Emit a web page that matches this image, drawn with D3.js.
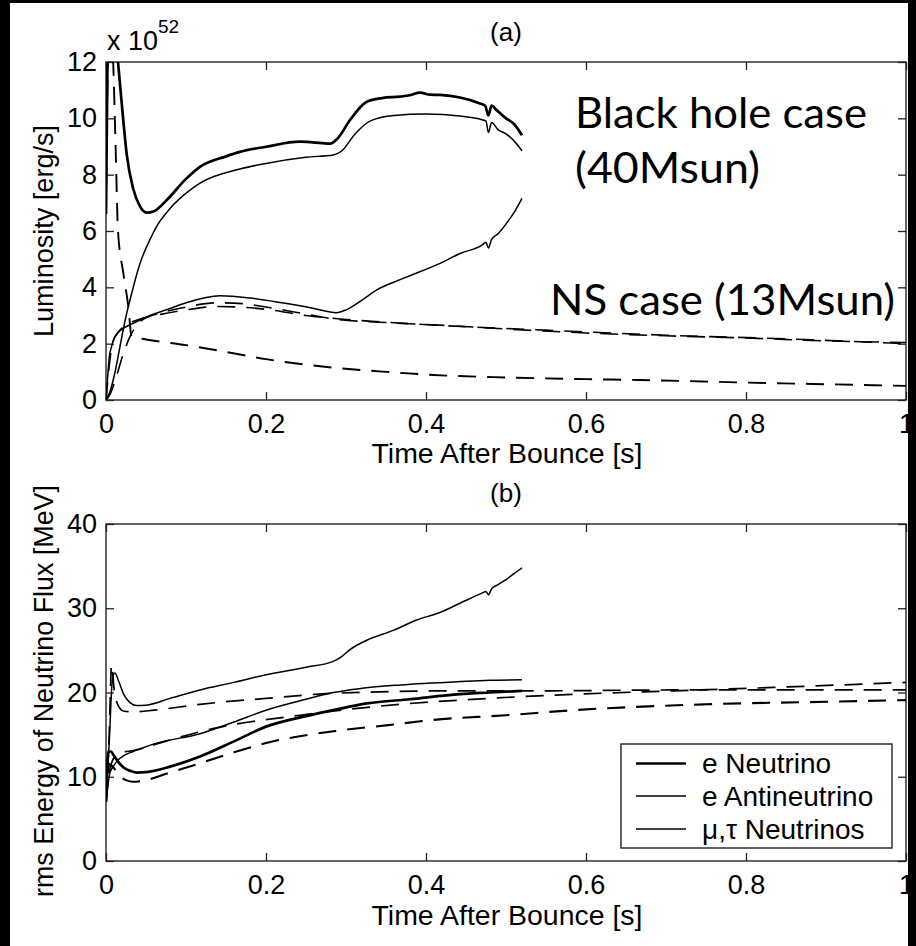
<!DOCTYPE html>
<html><head><meta charset="utf-8">
<script src="https://cdn.jsdelivr.net/npm/d3@7"></script>
<style>body{margin:0;background:#000}svg{display:block}</style>
</head><body><svg id="c" width="916" height="946"></svg>
<script>
// ---------- data ----------
const xTicks = [0, 0.2, 0.4, 0.6, 0.8, 1];
const xTickLabels = ["0", "0.2", "0.4", "0.6", "0.8", "1"];
const lumTicks = [0, 2, 4, 6, 8, 10, 12];
const ergTicks = [0, 10, 20, 30, 40];
const legendLabels = ["e Neutrino", "e Antineutrino", "\u03bc,\u03c4 Neutrinos"];

// (a) luminosity [10^52 erg/s], black hole case 40Msun (solid, end 0.52 s)
const bhLumNueT = [0,0.002,0.006,0.010,0.015,0.0217,0.026,0.034,0.042,0.051,0.06,0.076,0.1,0.1175,0.15,0.1675,0.2,0.2425,0.27,0.28,0.29,0.305,0.326,0.345,0.3675,0.38,0.3925,0.405,0.4175,0.4425,0.4675,0.474,0.478,0.482,0.488,0.5,0.51,0.52];
const bhLumNueV = [6.6,12.5,14.5,13.5,12.0,9.9,8.7,7.5,6.9,6.65,6.7,7.1,7.85,8.28,8.65,8.81,8.99,9.17,9.12,9.1,9.3,9.94,10.59,10.72,10.77,10.82,10.91,10.84,10.83,10.74,10.53,10.45,10.1,10.45,10.3,10.0,9.8,9.4];
const bhLumNuebT = [0,0.005,0.011,0.0175,0.024,0.03,0.0425,0.055,0.063,0.08,0.105,0.1175,0.1675,0.2,0.25,0.284,0.295,0.31,0.33,0.36,0.4,0.4425,0.47,0.475,0.478,0.482,0.49,0.5,0.51,0.52];
const bhLumNuebV = [0,0.3,0.95,1.9,2.84,3.55,4.85,5.7,6.15,6.8,7.45,7.7,8.2,8.4,8.62,8.7,8.85,9.4,9.9,10.1,10.15,10.08,9.95,9.9,9.5,9.85,9.6,9.45,9.2,8.85];
const bhLumNuxT = [0,0.002,0.004,0.007,0.011,0.022,0.034,0.055,0.08,0.1,0.1425,0.18,0.22,0.26,0.288,0.3,0.32,0.338,0.37,0.4175,0.4425,0.47,0.475,0.478,0.482,0.49,0.5,0.51,0.52];
const bhLumNuxV = [0,0.8,1.5,1.9,2.25,2.55,2.72,3.0,3.25,3.45,3.70,3.62,3.45,3.25,3.10,3.2,3.55,3.9,4.3,4.85,5.2,5.5,5.6,5.4,5.7,5.9,6.25,6.65,7.16];
// (a) NS case 13Msun (dashed, to 1 s)
const nsLumNueT = [0,0.003,0.006,0.009,0.012,0.015,0.0217,0.028,0.032,0.05,0.1,0.159,0.2,0.284,0.35,0.409,0.5,0.6,0.667,0.8,0.9,1.0];
const nsLumNueV = [6.6,13,14,12,9,6.0,4.5,3.3,2.25,2.15,1.95,1.66,1.45,1.15,1.0,0.89,0.8,0.74,0.71,0.62,0.56,0.5];
const nsLumNuebT = [0,0.005,0.013,0.02,0.03,0.046,0.07,0.1,0.138,0.17,0.2,0.25,0.284,0.35,0.4425,0.5,0.6,0.7,0.8,0.9,1.0];
const nsLumNuebV = [0,0.2,0.83,1.5,2.25,2.85,3.1,3.3,3.45,3.42,3.3,3.05,2.88,2.75,2.62,2.52,2.38,2.28,2.2,2.1,2.04];
const nsLumNuxT = [0,0.004,0.008,0.015,0.025,0.04,0.07,0.1,0.14,0.2,0.25,0.3,0.35,0.45,0.55,0.7,0.85,1.0];
const nsLumNuxV = [0,1.2,2.0,2.4,2.65,2.85,3.05,3.2,3.32,3.22,3.0,2.86,2.76,2.6,2.48,2.3,2.17,2.0];

// (b) rms energy [MeV]
const bhErmsNueT = [0,0.003,0.006,0.01,0.015,0.022,0.03,0.038,0.05,0.08,0.1175,0.16,0.2,0.25,0.284,0.326,0.38,0.4425,0.48,0.52];
const bhErmsNueV = [7,13.0,13.0,12.5,11.8,11.1,10.7,10.5,10.55,11.2,12.4,14.2,15.95,17.2,17.9,18.7,19.2,19.8,20.0,20.2];
const bhErmsNuebT = [0,0.005,0.009,0.015,0.022,0.034,0.0425,0.06,0.1175,0.16,0.2,0.25,0.284,0.32,0.3675,0.4425,0.48,0.52];
const bhErmsNuebV = [7,10.5,11.2,12.0,12.5,13.0,13.3,13.9,15.1,16.5,17.9,19.2,20.0,20.5,20.9,21.3,21.45,21.5];
const bhErmsNuxT = [0,0.004,0.008,0.011,0.016,0.022,0.03,0.038,0.05,0.08,0.1175,0.16,0.2,0.25,0.284,0.295,0.305,0.326,0.36,0.388,0.4175,0.4425,0.47,0.475,0.478,0.482,0.49,0.5,0.51,0.52];
const bhErmsNuxV = [7,14,21.5,22.3,21.3,19.8,18.8,18.45,18.5,19.3,20.3,21.2,22.1,23.0,23.7,24.3,25.1,26.2,27.4,28.6,29.5,30.6,31.8,32.0,31.6,32.3,32.8,33.4,34.1,34.8];
const nsErmsNueT = [0,0.004,0.01,0.018,0.025,0.034,0.05,0.08,0.1175,0.16,0.2,0.284,0.35,0.409,0.5,0.584,0.75,0.9,1.0];
const nsErmsNueV = [7,11.5,11,10.0,9.6,9.4,9.6,10.5,11.6,12.9,14.0,15.4,16.1,16.75,17.3,17.9,18.6,18.9,19.1];
const nsErmsNuebT = [0,0.005,0.012,0.02,0.034,0.06,0.1,0.138,0.2425,0.3675,0.4425,0.54,0.709,0.834,1.0];
const nsErmsNuebV = [7,11,12.5,12.9,13.1,13.8,14.9,15.8,17.3,18.6,19.1,19.6,20.2,20.6,21.2];
const nsErmsNuxT = [0,0.004,0.007,0.010,0.015,0.022,0.034,0.06,0.1175,0.2,0.284,0.4425,0.5425,0.709,0.834,1.0];
const nsErmsNuxV = [7,15,23.3,20.5,18.5,17.8,17.7,17.9,18.6,19.3,19.9,20.2,20.2,20.3,20.3,20.3];

// ---------- drawing ----------
const svg = d3.select("#c");
svg.append("rect").attr("x",0).attr("y",0).attr("width",916).attr("height",946).attr("fill","#000");
svg.append("rect").attr("x",10).attr("y",3).attr("width",898).attr("height",943).attr("fill","#fff");

const FONT = "'Liberation Sans', Arial, Helvetica, sans-serif";
const x0 = 106, x1 = 906;
const zip = (t, v) => t.map((d, i) => ({t: d, v: v[i]}));

function panel(id, top, bottom, ymax, yTicks) {
  const x = d3.scaleLinear().domain([0, 1]).range([x0, x1]);
  const y = d3.scaleLinear().domain([0, ymax]).range([bottom, top]);
  const g = svg.append("g");
  g.append("clipPath").attr("id", id).append("rect")
    .attr("x", x0).attr("y", top).attr("width", x1 - x0).attr("height", bottom - top);
  const style = s => s.select(".domain").remove();
  g.append("g").attr("transform", `translate(0,${bottom})`)
    .call(d3.axisBottom(x).tickValues(xTicks).tickFormat((d, i) => xTickLabels[i]).tickSizeInner(-8).tickSizeOuter(0).tickPadding(14))
    .call(style);
  g.append("g").attr("transform", `translate(0,${top})`)
    .call(d3.axisTop(x).tickValues(xTicks).tickFormat("").tickSizeInner(-8).tickSizeOuter(0)).call(style);
  g.append("g").attr("transform", `translate(${x0},0)`)
    .call(d3.axisLeft(y).tickValues(yTicks).tickSizeInner(-8).tickSizeOuter(0).tickPadding(9))
    .call(style);
  g.append("g").attr("transform", `translate(${x1},0)`)
    .call(d3.axisRight(y).tickValues(yTicks).tickFormat("").tickSizeInner(-8).tickSizeOuter(0)).call(style);
  g.selectAll(".tick line").attr("stroke", "#222").attr("stroke-width", 1.3);
  g.selectAll(".tick text").attr("font-family", FONT).attr("font-size", 27).attr("fill", "#000");
  g.append("rect").attr("x", x0).attr("y", top).attr("width", x1 - x0).attr("height", bottom - top)
    .attr("fill", "none").attr("stroke", "#222").attr("stroke-width", 1.4);
  const lines = g.append("g").attr("clip-path", `url(#${id})`);
  const gen = d3.line().x(d => x(d.t)).y(d => y(d.v)).curve(d3.curveMonotoneX);
  function draw(t, v, w, dash) {
    lines.append("path").attr("d", gen(zip(t, v))).attr("fill", "none")
      .attr("stroke", "#000").attr("stroke-width", w)
      .attr("stroke-linejoin", "round")
      .attr("stroke-dasharray", dash ? "18,11" : null);
  }
  return {x, y, g, draw};
}

// panel (a)
const pa = panel("clipA", 62, 400, 12, lumTicks);
pa.draw(nsLumNueT, nsLumNueV, 1.9, true);
pa.draw(nsLumNuebT, nsLumNuebV, 1.6, true);
pa.draw(nsLumNuxT, nsLumNuxV, 1.6, true);
pa.draw(bhLumNuxT, bhLumNuxV, 1.5, false);
pa.draw(bhLumNuebT, bhLumNuebV, 1.5, false);
pa.draw(bhLumNueT, bhLumNueV, 2.7, false);

// panel (b)
const pb = panel("clipB", 524, 861, 40, ergTicks);
pb.draw(nsErmsNueT, nsErmsNueV, 2.1, true);
pb.draw(nsErmsNuebT, nsErmsNuebV, 1.7, true);
pb.draw(nsErmsNuxT, nsErmsNuxV, 1.7, true);
pb.draw(bhErmsNuxT, bhErmsNuxV, 1.5, false);
pb.draw(bhErmsNuebT, bhErmsNuebV, 1.5, false);
pb.draw(bhErmsNueT, bhErmsNueV, 2.7, false);

// texts
function txt(x, y, s, size, opts = {}) {
  const t = svg.append("text").attr("x", x).attr("y", y).text(s)
    .attr("font-family", opts.family || FONT).attr("font-size", size)
    .attr("text-anchor", opts.anchor || "start").attr("fill", "#000");
  if (opts.len) t.attr("textLength", opts.len).attr("lengthAdjust", "spacingAndGlyphs");
  if (opts.rot) t.attr("transform", `rotate(-90,${x},${y})`);
  return t;
}
txt(506, 41, "(a)", 26, {anchor: "middle"});
txt(506, 502, "(b)", 26, {anchor: "middle"});
txt(107, 50, "x 10", 27);
txt(158, 33, "52", 19);
txt(507, 463, "Time After Bounce [s]", 27, {anchor: "middle", len: 271});
txt(507, 925, "Time After Bounce [s]", 27, {anchor: "middle", len: 271});
txt(53, 231, "Luminosity [erg/s]", 27, {anchor: "middle", rot: true, len: 212});
txt(53, 691, "rms Energy of Neutrino Flux [MeV]", 27, {anchor: "middle", rot: true, len: 412});

const ANN = "Lato, 'Open Sans', sans-serif";
txt(575, 128, "Black hole case", 42, {family: ANN, len: 292});
txt(575, 183, "(40Msun)", 42, {family: ANN, len: 185});
txt(550, 315, "NS case (13Msun)", 42, {family: ANN, len: 345});

// legend
const lg = svg.append("g");
lg.append("rect").attr("x", 621).attr("y", 744).attr("width", 271).attr("height", 104)
  .attr("fill", "#fff").attr("stroke", "#222").attr("stroke-width", 1.4);
const rowY = [763.5, 796, 829];
const rowW = [2.7, 1.5, 1.5];
legendLabels.forEach((s, i) => {
  lg.append("line").attr("x1", 636).attr("x2", 686).attr("y1", rowY[i]).attr("y2", rowY[i])
    .attr("stroke", "#000").attr("stroke-width", rowW[i]);
  lg.append("text").attr("x", 702).attr("y", rowY[i] + 9.5).text(s)
    .attr("font-family", FONT).attr("font-size", 28).attr("fill", "#000");
});
</script>
</body></html>
